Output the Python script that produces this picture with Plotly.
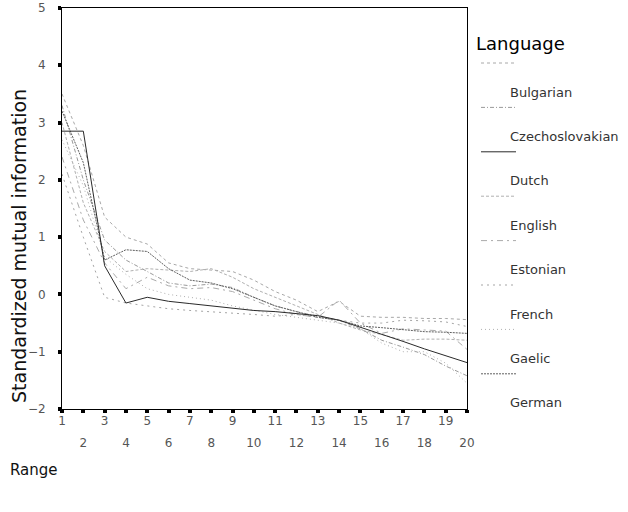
import plotly.graph_objects as go

ranges = list(range(1, 21))

languages = ["Bulgarian", "Czechoslovakian", "Dutch", "English",
             "Estonian", "French", "Gaelic", "German"]

bulgarian = [3.5, 2.6, 1.35, 1.0, 0.88, 0.55, 0.45, 0.42, 0.4, 0.25,
             0.05, -0.1, -0.3, -0.12, -0.38, -0.4, -0.4, -0.42, -0.42, -0.44]
czechoslovakian = [3.3, 2.0, 0.95, 0.6, 0.4, 0.2, 0.15, 0.18, 0.12, -0.05,
                   -0.2, -0.3, -0.38, -0.45, -0.6, -0.8, -0.92, -1.05, -1.25, -1.42]
dutch = [2.85, 2.85, 0.5, -0.15, -0.05, -0.12, -0.16, -0.2, -0.25, -0.28,
         -0.3, -0.33, -0.37, -0.45, -0.57, -0.7, -0.82, -0.95, -1.07, -1.19]
english = [3.0, 1.6, 0.75, 0.4, 0.45, 0.42, 0.4, 0.45, 0.3, 0.1,
           -0.05, -0.2, -0.35, -0.5, -0.62, -0.7, -0.8, -0.78, -0.78, -0.8]
estonian = [2.4, 1.3, 0.55, 0.1, 0.3, 0.15, 0.1, 0.12, 0.05, -0.1,
            -0.25, -0.35, -0.4, -0.1, -0.5, -0.68, -0.6, -0.62, -0.64, -0.96]
french = [2.1, 1.0, -0.05, -0.15, -0.2, -0.25, -0.28, -0.3, -0.33, -0.35,
          -0.38, -0.35, -0.4, -0.45, -0.5, -0.5, -0.45, -0.46, -0.48, -0.56]
gaelic = [2.7, 1.9, 0.65, 0.35, 0.1, 0.0, -0.05, -0.1, -0.2, -0.28,
          -0.35, -0.4, -0.45, -0.5, -0.6, -0.85, -1.0, -1.0, -1.2, -1.55]
german = [3.2, 2.3, 0.6, 0.78, 0.75, 0.45, 0.25, 0.2, 0.1, -0.05,
          -0.2, -0.3, -0.4, -0.45, -0.55, -0.58, -0.62, -0.65, -0.66, -0.68]

series = [bulgarian, czechoslovakian, dutch, english, estonian, french, gaelic, german]

colors = ["#a8a8a8", "#9a9a9a", "#2a2a2a", "#b0b0b0",
          "#aaaaaa", "#a5a5a5", "#b0b0b0", "#606060"]
dashes = ["dot", "4px,2px,1px,2px", "solid", "3px,2px",
          "6px,4px,2px,4px", "2px,4px", "1px,3px", "2px,1px"]

odd_ticks = [t for t in ranges if t % 2 == 1]
even_ticks = [t for t in ranges if t % 2 == 0]

FONT = "DejaVu Sans"

fig = go.Figure()
for name, vals, c, d in zip(languages, series, colors, dashes):
    fig.add_trace(go.Scatter(
        x=ranges, y=vals, name=name, mode="lines",
        line=dict(color=c, width=1, dash=d),
        showlegend=False,
        xaxis="x2" if name == "Dutch" else "x",
    ))

axis_common = dict(showgrid=False, zeroline=False, automargin=False,
                   ticks="outside", ticklen=3, tickwidth=4, tickcolor="#000",
                   tickfont=dict(family=FONT, size=12, color="#555"))

fig.update_layout(
    width=628, height=512,
    margin=dict(l=62, r=161, t=8, b=103),
    paper_bgcolor="white", plot_bgcolor="white",
    xaxis=dict(range=[1, 20], tickvals=odd_ticks, ticktext=[str(t) for t in odd_ticks],
               showline=True, linecolor="#000", linewidth=1, mirror=True,
               ticklabelstandoff=-2, **axis_common),
    xaxis2=dict(range=[1, 20], overlaying="x", matches="x", anchor="y", side="bottom",
                tickvals=even_ticks, ticktext=[str(t) for t in even_ticks],
                showline=False, ticklabelstandoff=20, **axis_common),
    yaxis=dict(range=[-2, 5], dtick=1, showline=True, linecolor="#000", linewidth=1,
               mirror=True, ticklabelstandoff=10, **axis_common),
)

def px_to_paper_x(px):
    return (px - 62) / 405.0

def px_to_paper_y(py):
    return (409 - py) / 401.0

annotations = [
    dict(text="Standardized mutual information", textangle=-90,
         x=px_to_paper_x(19), y=px_to_paper_y(246), xref="paper", yref="paper",
         xanchor="center", yanchor="middle", showarrow=False,
         font=dict(family=FONT, size=19, color="#111")),
    dict(text="Range", x=px_to_paper_x(8), y=px_to_paper_y(470),
         xref="paper", yref="paper", xanchor="left", yanchor="middle",
         showarrow=False, font=dict(family=FONT, size=15, color="#111")),
    dict(text="Language", x=px_to_paper_x(474), y=px_to_paper_y(43),
         xref="paper", yref="paper", xanchor="left", yanchor="middle",
         showarrow=False, font=dict(family=FONT, size=18, color="#000")),
]
shapes = []
for i, (name, c, d) in enumerate(zip(languages, colors, dashes)):
    sy = 63 + 44.4 * i
    shapes.append(dict(type="line", xref="paper", yref="paper",
                       x0=px_to_paper_x(481), x1=px_to_paper_x(516),
                       y0=px_to_paper_y(sy), y1=px_to_paper_y(sy),
                       line=dict(color=c, width=1, dash=d)))
    annotations.append(dict(text=name, x=px_to_paper_x(508), y=px_to_paper_y(sy + 29),
                            xref="paper", yref="paper", xanchor="left", yanchor="middle",
                            showarrow=False, font=dict(family=FONT, size=13, color="#333")))

fig.update_layout(annotations=annotations, shapes=shapes)

# remove the browser's default 8px body margin so the figure sits at the window origin
fig.write_html("out.html", config={"displayModeBar": False},
               post_script="document.body.style.margin='0px';")
